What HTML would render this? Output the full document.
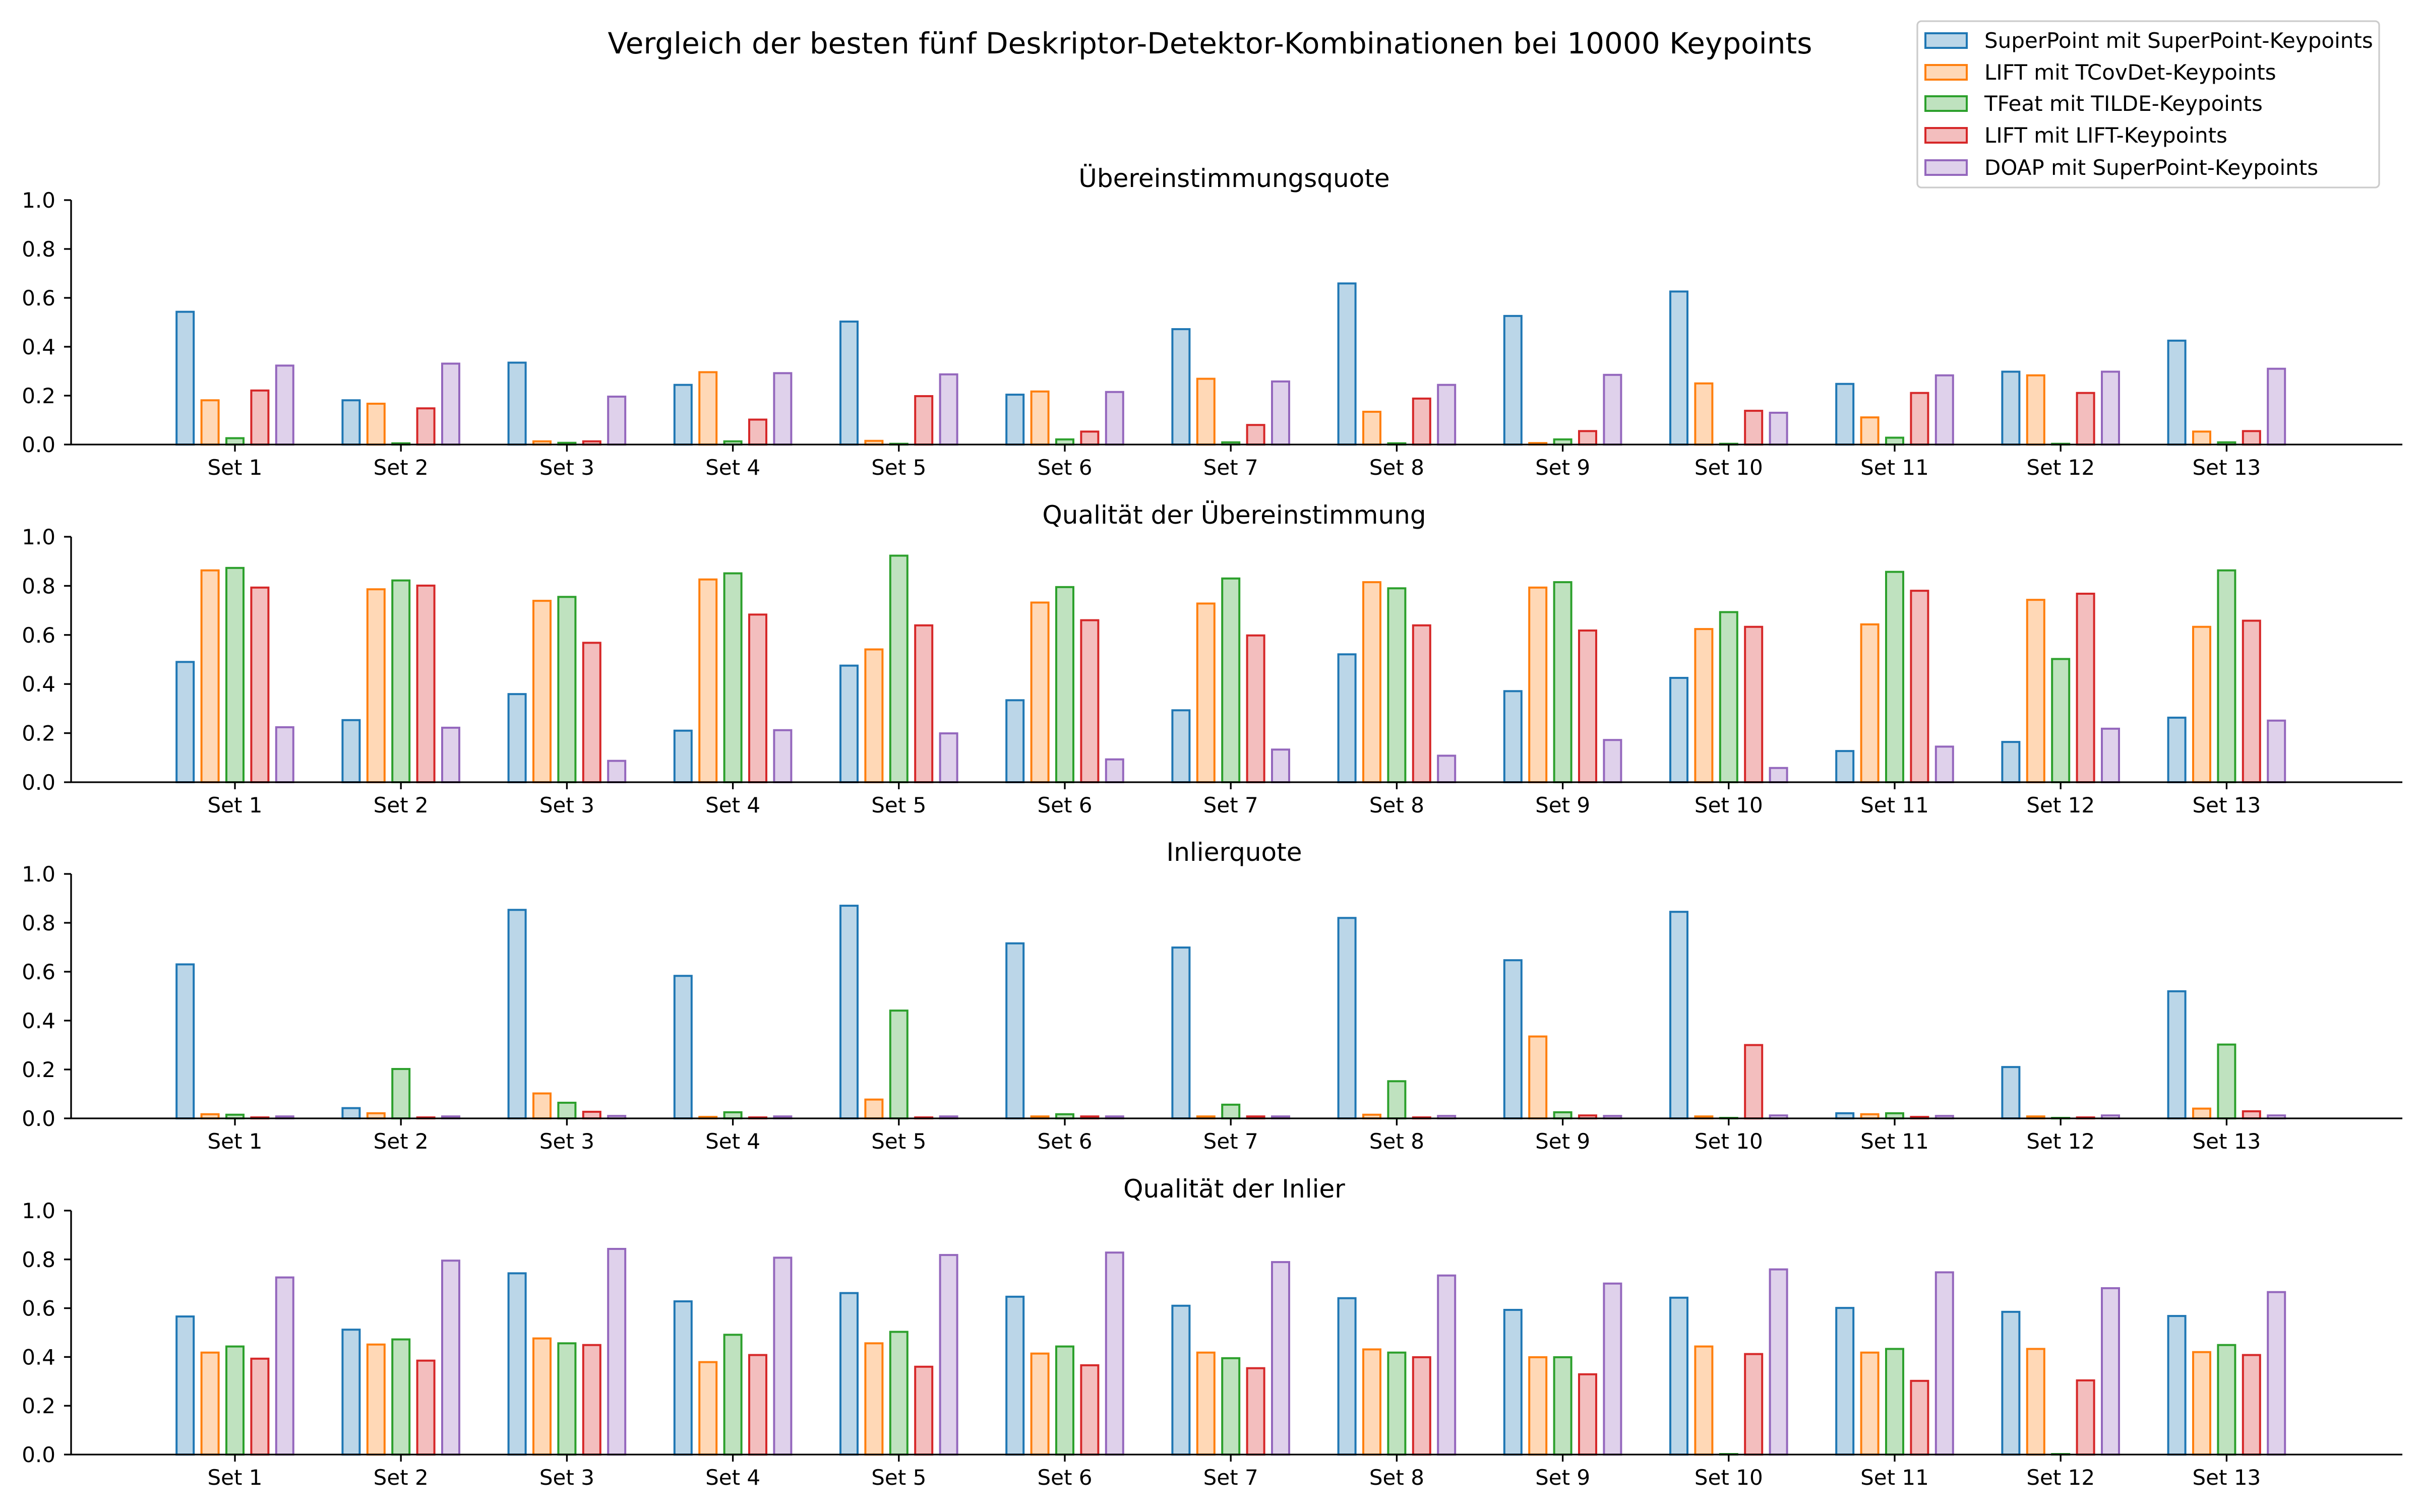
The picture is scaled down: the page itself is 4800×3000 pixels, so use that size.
<!DOCTYPE html>
<html><head><meta charset="utf-8"><style>
html,body{margin:0;padding:0;background:#fff;}
svg{display:block;font-family:"DejaVu Sans","Liberation Sans",sans-serif;}
</style></head><body>
<svg id="chart" width="4800" height="3000" viewBox="0 0 4800 3000" xmlns="http://www.w3.org/2000/svg">
<rect width="4800" height="3000" fill="#fff"/>
<text x="2400" y="106" font-size="58" text-anchor="middle">Vergleich der besten fünf Deskriptor-Detektor-Kombinationen bei 10000 Keypoints</text>
<g id="panels"></g>
<g id="legend"></g>
</svg>
<script>
const categories = ["Set 1","Set 2","Set 3","Set 4","Set 5","Set 6","Set 7","Set 8","Set 9","Set 10","Set 11","Set 12","Set 13"];
const seriesNames = ["SuperPoint mit SuperPoint-Keypoints","LIFT mit TCovDet-Keypoints","TFeat mit TILDE-Keypoints","LIFT mit LIFT-Keypoints","DOAP mit SuperPoint-Keypoints"];
const panelTitles = ["Übereinstimmungsquote","Qualität der Übereinstimmung","Inlierquote","Qualität der Inlier"];
const yTicks = [0,0.2,0.4,0.6,0.8,1.0];
const yTickLabels = ["0.0","0.2","0.4","0.6","0.8","1.0"];

// Panel 1: Übereinstimmungsquote
const p1SuperPoint = [0.543,0.181,0.335,0.244,0.503,0.204,0.472,0.659,0.526,0.626,0.248,0.298,0.425];
const p1LiftTcov   = [0.181,0.167,0.013,0.296,0.015,0.217,0.269,0.134,0.006,0.250,0.111,0.283,0.053];
const p1TfeatTilde = [0.026,0.005,0.007,0.013,0.003,0.021,0.009,0.005,0.021,0.003,0.028,0.003,0.009];
const p1LiftLift   = [0.221,0.148,0.013,0.102,0.198,0.053,0.080,0.188,0.055,0.138,0.211,0.211,0.055];
const p1Doap       = [0.323,0.331,0.196,0.292,0.287,0.215,0.258,0.244,0.285,0.130,0.283,0.298,0.310];
// Panel 2: Qualität der Übereinstimmung
const p2SuperPoint = [0.490,0.253,0.359,0.210,0.475,0.334,0.293,0.521,0.371,0.425,0.127,0.164,0.263];
const p2LiftTcov   = [0.863,0.786,0.739,0.826,0.541,0.732,0.728,0.815,0.793,0.624,0.643,0.743,0.633];
const p2TfeatTilde = [0.873,0.822,0.755,0.851,0.923,0.795,0.830,0.790,0.815,0.693,0.857,0.502,0.863];
const p2LiftLift   = [0.793,0.801,0.568,0.683,0.639,0.660,0.598,0.639,0.618,0.633,0.780,0.768,0.658];
const p2Doap       = [0.224,0.222,0.087,0.212,0.199,0.093,0.133,0.108,0.172,0.058,0.145,0.218,0.251];
// Panel 3: Inlierquote
const p3SuperPoint = [0.630,0.042,0.853,0.583,0.870,0.716,0.699,0.820,0.647,0.845,0.021,0.210,0.520];
const p3LiftTcov   = [0.017,0.021,0.102,0.006,0.077,0.008,0.008,0.015,0.335,0.008,0.017,0.008,0.040];
const p3TfeatTilde = [0.015,0.202,0.064,0.025,0.441,0.017,0.056,0.152,0.025,0.002,0.021,0.002,0.302];
const p3LiftLift   = [0.004,0.004,0.027,0.004,0.004,0.008,0.008,0.004,0.012,0.300,0.006,0.004,0.029];
const p3Doap       = [0.008,0.008,0.010,0.008,0.008,0.008,0.008,0.010,0.010,0.012,0.010,0.012,0.012];
// Panel 4: Qualität der Inlier
const p4SuperPoint = [0.566,0.512,0.743,0.628,0.662,0.647,0.610,0.641,0.593,0.643,0.601,0.585,0.568];
const p4LiftTcov   = [0.418,0.451,0.476,0.379,0.456,0.414,0.418,0.431,0.399,0.443,0.418,0.433,0.420];
const p4TfeatTilde = [0.443,0.472,0.456,0.491,0.503,0.443,0.395,0.418,0.399,0.002,0.433,0.002,0.449];
const p4LiftLift   = [0.393,0.385,0.449,0.408,0.360,0.366,0.354,0.399,0.329,0.412,0.302,0.304,0.408];
const p4Doap       = [0.726,0.795,0.843,0.807,0.818,0.828,0.789,0.734,0.701,0.759,0.747,0.682,0.666];

const panelData = [
  [p1SuperPoint,p1LiftTcov,p1TfeatTilde,p1LiftLift,p1Doap],
  [p2SuperPoint,p2LiftTcov,p2TfeatTilde,p2LiftLift,p2Doap],
  [p3SuperPoint,p3LiftTcov,p3TfeatTilde,p3LiftLift,p3Doap],
  [p4SuperPoint,p4LiftTcov,p4TfeatTilde,p4LiftLift,p4Doap]
];

const colors = ["#1f77b4","#ff7f0e","#2ca02c","#d62728","#9467bd"];
const NS = "http://www.w3.org/2000/svg";
const panelTops = [397,1065,1734,2402];
const panelBottoms = [882,1552,2219,2886];
const axLeft = 141, axRight = 4765;
const firstX = 466, spacing = 329.2, barStep = 49.4, barW = 34;

function xScale(i){ return firstX + i*spacing; }
function yScale(v,p){ return panelBottoms[p] - v*(panelBottoms[p]-panelTops[p]); }
function mk(tag, attrs, parent){
  const e = document.createElementNS(NS, tag);
  for (const k in attrs) e.setAttribute(k, attrs[k]);
  parent.appendChild(e);
  return e;
}
const panels = document.getElementById('panels');
panelData.forEach((series, p) => {
  const g = mk('g', {}, panels);
  
  
  const t = mk('text', {x:2448, y:panelTops[p]-26, 'font-size':50, 'text-anchor':'middle'}, g);
  t.textContent = panelTitles[p];
  
  
  series.forEach((vals, s) => {
    vals.forEach((v, i) => {
      const cx = xScale(i) + (s-2)*barStep;
      const y = yScale(v,p);
      const r = mk('rect', {x:cx-barW/2, y:y, width:barW, height:Math.max(0,panelBottoms[p]-y), fill:colors[s], 'fill-opacity':0.3, stroke:colors[s], 'stroke-width':4}, g);
      
      
    });
  });
  const yl = mk('line', {x1:axLeft, y1:panelTops[p], x2:axLeft, y2:panelBottoms[p], stroke:'#000', 'stroke-width':3.3}, g);
  
  
  yTicks.forEach((tv, k) => {
    const y = yScale(tv,p);
    mk('line', {x1:axLeft-14, y1:y, x2:axLeft, y2:y, stroke:'#000', 'stroke-width':3.3}, g);
    const lt = mk('text', {x:axLeft-31, y:y+15, 'font-size':42, 'text-anchor':'end'}, g);
    lt.textContent = yTickLabels[k];
    
    
  });
  const xl = mk('line', {x1:axLeft-1.6, y1:panelBottoms[p], x2:axRight, y2:panelBottoms[p], stroke:'#000', 'stroke-width':3.3}, g);
  
  
  categories.forEach((c, i) => {
    const x = xScale(i);
    mk('line', {x1:x, y1:panelBottoms[p], x2:x, y2:panelBottoms[p]+14, stroke:'#000', 'stroke-width':3.3}, g);
    const lt = mk('text', {x:x, y:panelBottoms[p]+60, 'font-size':42, 'text-anchor':'middle'}, g);
    lt.textContent = c;
    
    
  });
});
const lg = document.getElementById('legend');
mk('rect', {x:3803, y:42, width:916, height:330, rx:8, fill:'#fff', 'fill-opacity':0.8, stroke:'#cccccc', 'stroke-width':3.3}, lg);
const legendY = [80,143,205,268,332];
seriesNames.forEach((n, s) => {
  const e = mk('g', {}, lg);
  
  
  mk('rect', {x:3819, y:legendY[s]-14, width:82, height:29, fill:colors[s], 'fill-opacity':0.3, stroke:colors[s], 'stroke-width':4}, e);
  const t = mk('text', {x:3936, y:legendY[s]+15, 'font-size':42}, e);
  t.textContent = n;
});
</script>
</body></html>
